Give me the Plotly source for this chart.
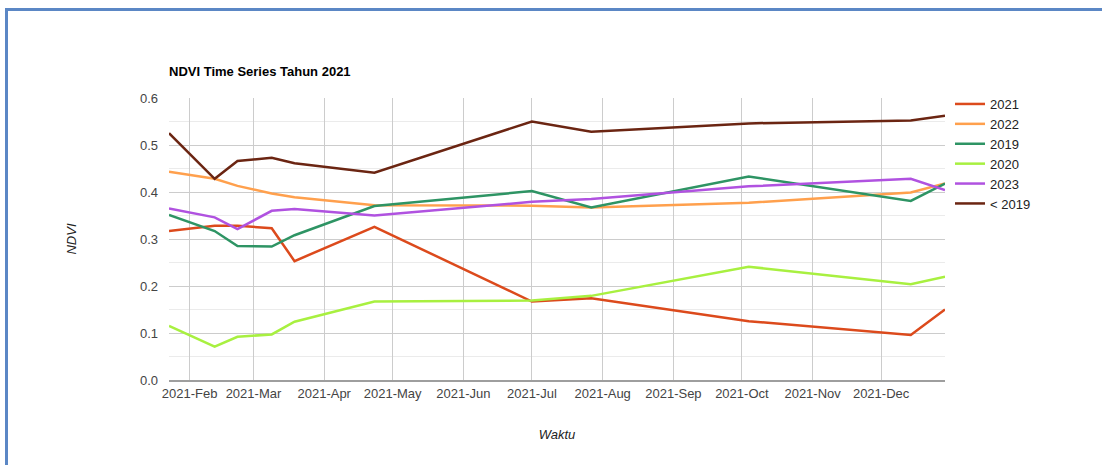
import plotly.graph_objects as go

dates = ["2021-01-23", "2021-02-12", "2021-02-22", "2021-03-09", "2021-03-19",
         "2021-04-23", "2021-07-01", "2021-07-27", "2021-10-04", "2021-12-14", "2021-12-29"]

s2021 = [0.317, 0.328, 0.328, 0.323, 0.253, 0.326, 0.167, 0.174, 0.125, 0.096, 0.150]
s2022 = [0.443, 0.428, 0.413, 0.397, 0.389, 0.372, 0.371, 0.367, 0.377, 0.399, 0.418]
s2019 = [0.351, 0.317, 0.285, 0.284, 0.308, 0.370, 0.402, 0.367, 0.433, 0.381, 0.418]
s2020 = [0.115, 0.071, 0.092, 0.097, 0.124, 0.167, 0.169, 0.179, 0.241, 0.204, 0.220]
s2023 = [0.365, 0.346, 0.321, 0.360, 0.364, 0.350, 0.379, 0.385, 0.412, 0.428, 0.404]
s_pre2019 = [0.525, 0.428, 0.466, 0.473, 0.461, 0.441, 0.550, 0.528, 0.546, 0.552, 0.562]

series_names = ["2021", "2022", "2019", "2020", "2023", "< 2019"]
series_values = [s2021, s2022, s2019, s2020, s2023, s_pre2019]
colors = ["#dc4a1c", "#ffa04d", "#2e9464", "#a8f040", "#b052e0", "#6b2512"]

FONT = "Liberation Sans, Arial, sans-serif"

fig = go.Figure()
for name, vals, col in zip(series_names, series_values, colors):
    fig.add_trace(go.Scatter(x=dates, y=vals, name=name, mode="lines",
                             line=dict(color=col, width=2.5)))

L, R, T, B = 169, 157, 98, 85
W, H = 1102, 465
pw, ph = W - L - R, H - T - B

def px_x(p):
    return (p - L) / pw

def px_y(p):
    return (H - B - p) / ph

fig.add_shape(type="rect", xref="paper", yref="paper",
              x0=px_x(6.5), x1=px_x(1120), y0=px_y(480), y1=px_y(9.5),
              line=dict(color="#5b87c5", width=3), fillcolor="rgba(0,0,0,0)", layer="below")

fig.update_layout(
    width=W, height=H,
    margin=dict(l=L, r=R, t=T, b=B),
    paper_bgcolor="white", plot_bgcolor="white",
    font=dict(family=FONT, size=13, color="#444444"),
    title=dict(text="<b>NDVI Time Series Tahun 2021</b>", x=px_x(169), xref="paper",
               xanchor="left", y=1 - 71 / H, yanchor="middle",
               font=dict(family=FONT, size=13, color="#000000")),
    showlegend=True,
    legend=dict(x=px_x(950), xanchor="left", y=px_y(89), yanchor="top",
                font=dict(family=FONT, size=13, color="#222222"),
                bgcolor="rgba(0,0,0,0)", borderwidth=0),
    xaxis=dict(range=[dates[0], dates[-1]], tickformat="%Y-%b", dtick="M1",
               tick0="2021-02-01", showgrid=True, gridcolor="#cccccc", gridwidth=1,
               showline=True, linecolor="#9e9e9e", linewidth=2, ticks="",
               tickfont=dict(family=FONT, size=13, color="#444444"),
               title=dict(text="<i>Waktu</i>", font=dict(family=FONT, size=13, color="#222222"),
                          standoff=30),
               zeroline=False),
    yaxis=dict(range=[0, 0.6], dtick=0.1, tickformat=".1f", showgrid=True,
               gridcolor="#cccccc", gridwidth=1, zeroline=False, ticks="",
               ticklabelstandoff=10,
               minor=dict(dtick=0.05, showgrid=True, gridcolor="#ebebeb"),
               tickfont=dict(family=FONT, size=13, color="#444444"),
               title=dict(text="<i>NDVI</i>", font=dict(family=FONT, size=13, color="#222222"),
                          standoff=60)),
)

fig.write_html("out.html", config={"displayModeBar": False},
               post_script="document.body.style.margin='0px';document.body.style.overflow='hidden';")
